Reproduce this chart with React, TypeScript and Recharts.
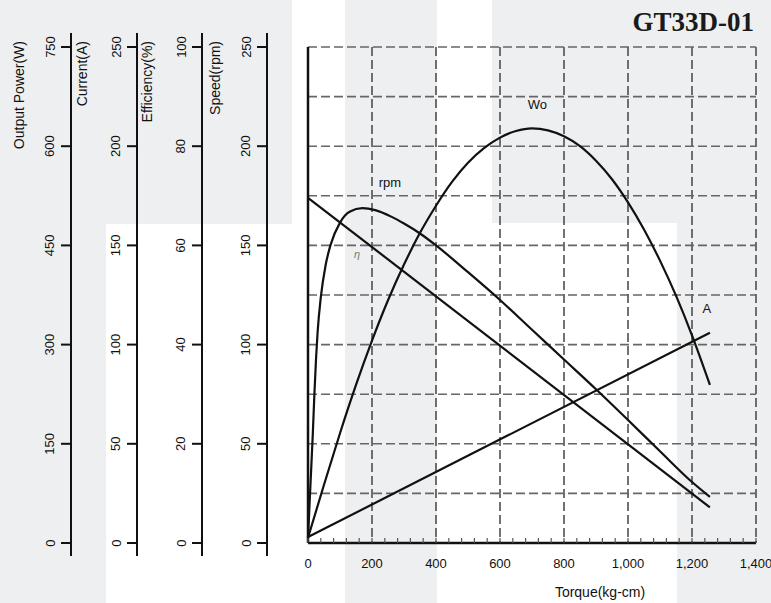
import { CartesianGrid, Line, LineChart, ReferenceDot, ReferenceLine, XAxis, YAxis } from 'recharts';

// torque axis (kg-cm)
const torqueTicks = [0, 200, 400, 600, 800, 1000, 1200, 1400];
const torqueMinorTicks = [
  0, 40, 80, 120, 160, 200, 240, 280, 320, 360, 400, 440, 480, 520, 560, 600, 640, 680,
  720, 760, 800, 840, 880, 920, 960, 1000, 1040, 1080, 1120, 1160, 1200, 1240, 1280, 1320,
  1360, 1400,
];
// horizontal grid, in speed-scale units
const speedGrid = [25, 50, 75, 100, 125, 150, 175, 200, 225, 250];

// left scales
const powerTicks = [0, 150, 300, 450, 600, 750];
const currentTicks = [0, 50, 100, 150, 200, 250];
const efficiencyTicks = [0, 20, 40, 60, 80, 100];
const speedTicks = [0, 50, 100, 150, 200, 250];

// output power Wo (W)
const powerTorque = [0, 50, 100, 150, 200, 250, 300, 350, 400, 450, 500, 550, 600, 650, 700, 750, 800, 850, 900, 950, 1000, 1050, 1100, 1150, 1200, 1256];
const powerWatts = [8, 88, 166, 239, 306, 367, 421, 469, 510, 546, 575, 597, 613, 623, 627, 624, 615, 600, 578, 550, 515, 474, 427, 374, 314, 239];

// efficiency (%)
const effTorque = [0, 5, 10, 15, 20, 25, 30, 40, 55, 70, 100, 130, 170, 210, 260, 300, 350, 400, 500, 600, 700, 800, 900, 1000, 1100, 1200, 1256];
const effPercent = [1, 8, 15, 22, 30, 37, 42.5, 49.5, 56, 60, 64.6, 66.8, 67.5, 67.1, 65.8, 64.4, 62.4, 60, 54.6, 49, 43, 37, 31, 24.8, 18.5, 12.3, 9.3];

// speed (rpm)
const speedTorque = [0, 1256];
const speedRpm = [174, 18];

// current (A)
const currentTorque = [0, 1256];
const currentAmps = [3, 106];

// curve tags, placed in torque / speed-scale units
const tagText = ['Wo', 'rpm', 'η', 'A'];
const tagTorque = [717, 256, 153, 1246];
const tagLevel = [220.8, 181.5, 145.7, 118.4];

const zip = (ts: number[], vs: number[]) => ts.map((t, i) => ({ t, v: vs[i] }));
const powerData = zip(powerTorque, powerWatts);
const effData = zip(effTorque, effPercent);
const speedData = zip(speedTorque, speedRpm);
const currentData = zip(currentTorque, currentAmps);

const FONT = '"Liberation Sans", Arial, sans-serif';
const INK = '#111';

const bands = [
  { left: 0, top: 0, width: 106, height: 603 },
  { left: 0, top: 0, width: 292, height: 224 },
  { left: 345, top: 0, width: 92, height: 603 },
  { left: 492, top: 0, width: 279, height: 223 },
  { left: 677, top: 223, width: 94, height: 380 },
];

function sideTick(title: string, top: number, titleDx: number) {
  return (props: any) => {
    const { x, y, payload } = props;
    const v = payload.value;
    const lx = x - 21;
    return (
      <g>
        <line x1={x - 10} y1={y} x2={x} y2={y} stroke={INK} strokeWidth={2} />
        <text
          x={lx}
          y={y}
          transform={`rotate(-90 ${lx} ${y})`}
          textAnchor="middle"
          dominantBaseline="central"
          fontFamily={FONT}
          fontSize={13}
          fill={INK}
        >
          {v}
        </text>
        {v === top && <line x1={x} y1={y} x2={x} y2={y - 14} stroke={INK} strokeWidth={2} />}
        {v === 0 && <line x1={x} y1={y} x2={x} y2={y + 13} stroke={INK} strokeWidth={2} />}
        {v === top && (
          <text
            x={x + titleDx}
            y={y - 6}
            transform={`rotate(-90 ${x + titleDx} ${y - 6})`}
            textAnchor="end"
            dominantBaseline="central"
            fontFamily={FONT}
            fontSize={14}
            fill={INK}
          >
            {title}
          </text>
        )}
      </g>
    );
  };
}

const NoTick = () => <g />;

const TorqueTick = (props: any) => {
  const { x, y, payload } = props;
  const v = payload.value as number;
  return (
    <g>
      <line x1={x} y1={y} x2={x} y2={y - 5} stroke="#555" strokeWidth={1.2} />
      {torqueTicks.includes(v) && (
        <text x={x} y={y + 20} textAnchor="middle" dominantBaseline="central" fontFamily={FONT} fontSize={13} fill={INK}>
          {v.toLocaleString('en-US')}
        </text>
      )}
    </g>
  );
};

const TorqueTitle = (props: any) => {
  const vb = props.viewBox || { x: 308, y: 543, width: 448 };
  return (
    <text x={vb.x + 292} y={vb.y + 49} textAnchor="middle" dominantBaseline="central" fontFamily={FONT} fontSize={14} fill={INK}>
      Torque(kg-cm)
    </text>
  );
};

const tagShape = (text: string) => (props: any) => (
  <text
    x={props.cx}
    y={props.cy}
    textAnchor="middle"
    dominantBaseline="central"
    fontFamily={FONT}
    fontSize={text === 'η' ? 11 : 13}
    fontStyle={text === 'η' ? 'italic' : 'normal'}
    fill={text === 'η' ? '#777' : INK}
  >
    {text}
  </text>
);

const axisLine = { stroke: INK, strokeWidth: 2 };

export default function App() {
  return (
    <div style={{ position: 'absolute', left: 0, top: 0, width: 771, height: 603, background: '#fff', overflow: 'hidden' }}>
      {bands.map((b, i) => (
        <div key={i} style={{ position: 'absolute', ...b, background: '#eeeff0' }} />
      ))}
      <div
        style={{
          position: 'absolute',
          right: 17,
          top: 9,
          fontFamily: '"Liberation Serif", "Times New Roman", serif',
          fontWeight: 'bold',
          fontSize: 27,
          lineHeight: '27px',
          color: '#1a1a1a',
        }}
      >
        GT33D-01
      </div>
      <div style={{ position: 'absolute', left: 0, top: 0 }}>
        <LineChart width={771} height={603} margin={{ top: 47, right: 15, bottom: 0, left: 0 }}>
          <XAxis
            dataKey="t"
            type="number"
            domain={[0, 1400]}
            ticks={torqueMinorTicks}
            interval={0}
            tickSize={0}
            tickMargin={0}
            tickLine={false}
            tick={TorqueTick}
            height={60}
            axisLine={{ stroke: INK, strokeWidth: 2.5 }}
            label={{ content: TorqueTitle }}
          />
          <YAxis
            yAxisId="y1gap"
            width={41}
            type="number"
            domain={[0, 10]}
            tick={NoTick}
            tickLine={false}
            axisLine={{ stroke: INK, strokeWidth: 2.5 }}
          />
          <YAxis
            yAxisId="y2speed"
            width={65}
            type="number"
            domain={[0, 250]}
            ticks={speedTicks}
            interval={0}
            tickSize={0}
            tickMargin={0}
            tickLine={false}
            axisLine={axisLine}
            tick={sideTick('Speed(rpm)', 250, -52)}
          />
          <YAxis
            yAxisId="y3eff"
            width={65}
            type="number"
            domain={[0, 100]}
            ticks={efficiencyTicks}
            interval={0}
            tickSize={0}
            tickMargin={0}
            tickLine={false}
            axisLine={axisLine}
            tick={sideTick('Efficiency(%)', 100, -55)}
          />
          <YAxis
            yAxisId="y4current"
            width={66}
            type="number"
            domain={[0, 250]}
            ticks={currentTicks}
            interval={0}
            tickSize={0}
            tickMargin={0}
            tickLine={false}
            axisLine={axisLine}
            tick={sideTick('Current(A)', 250, -55)}
          />
          <YAxis
            yAxisId="y5power"
            width={71}
            type="number"
            domain={[0, 750]}
            ticks={powerTicks}
            interval={0}
            tickSize={0}
            tickMargin={0}
            tickLine={false}
            axisLine={axisLine}
            tick={sideTick('Output Power(W)', 750, -52)}
          />
          {speedGrid.map((s) => (
            <ReferenceLine key={s} yAxisId="y2speed" y={s} stroke="#666" strokeDasharray="9 4" strokeWidth={1.6} />
          ))}
          <CartesianGrid
            yAxisId="y2speed"
            horizontal={false}
            verticalValues={torqueTicks}
            stroke="#444"
            strokeDasharray="9 4"
            strokeWidth={1.5}
          />
          <Line data={powerData} dataKey="v" yAxisId="y5power" type="monotone" dot={false} stroke={INK} strokeWidth={2.2} isAnimationActive={false} />
          <Line data={effData} dataKey="v" yAxisId="y3eff" type="monotone" dot={false} stroke={INK} strokeWidth={2.2} isAnimationActive={false} />
          <Line data={speedData} dataKey="v" yAxisId="y2speed" type="linear" dot={false} stroke={INK} strokeWidth={2.2} isAnimationActive={false} />
          <Line data={currentData} dataKey="v" yAxisId="y4current" type="linear" dot={false} stroke={INK} strokeWidth={2.2} isAnimationActive={false} />
          {tagText.map((text, i) => (
            <ReferenceDot
              key={text}
              yAxisId="y2speed"
              x={tagTorque[i]}
              y={tagLevel[i]}
              r={0}
              ifOverflow="visible"
              shape={tagShape(text)}
            />
          ))}
        </LineChart>
      </div>
    </div>
  );
}
